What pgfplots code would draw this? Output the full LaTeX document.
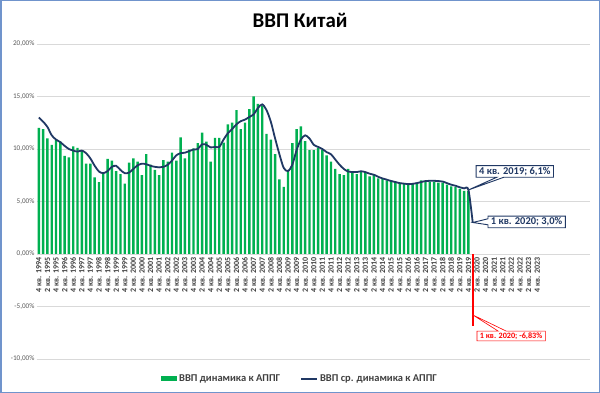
\documentclass[border=0pt]{standalone}
\usepackage{pgfplots}
\pgfplotsset{compat=1.18}
\usepackage{pgfplotstable}
\usepackage{fontspec}
\setmainfont{Carlito}
\usetikzlibrary{shapes.callouts}
\definecolor{barg}{HTML}{00B050}
\definecolor{navy}{HTML}{203864}
\definecolor{framec}{HTML}{7094CC}
\definecolor{gridc}{HTML}{D9D9D9}
\definecolor{tickc}{HTML}{595959}
\definecolor{labc}{HTML}{404040}

\pgfplotstableread{
i v
0 12.0
1 11.9
2 11.0
3 10.4
4 10.85
5 10.7
6 9.35
7 9.2
8 10.25
9 10.1
10 9.9
11 8.6
12 8.6
13 7.3
14 6.85
15 7.65
16 9.05
17 8.9
18 7.9
19 7.6
20 6.7
21 8.7
22 9.1
23 8.8
24 7.5
25 9.5
26 8.5
27 8.0
28 7.5
29 8.95
30 8.8
31 9.65
32 8.9
33 11.1
34 9.1
35 9.95
36 10.05
37 10.55
38 11.55
39 10.7
40 8.8
41 11.05
42 11.05
43 10.6
44 12.35
45 12.5
46 13.7
47 11.9
48 12.5
49 13.8
50 15.0
51 14.3
52 14.1
53 11.45
54 10.9
55 9.5
56 7.1
57 6.4
58 7.9
59 10.55
60 11.9
61 12.15
62 10.75
63 9.9
64 9.9
65 10.1
66 9.95
67 9.4
68 8.8
69 8.1
70 7.6
71 7.5
72 8.1
73 7.8
74 7.6
75 7.8
76 7.7
77 7.4
78 7.5
79 7.2
80 7.15
81 7.0
82 7.0
83 6.9
84 6.8
85 6.75
86 6.75
87 6.75
88 6.8
89 7.0
90 6.9
91 6.9
92 6.9
93 6.8
94 6.8
95 6.6
96 6.45
97 6.4
98 6.2
99 6.0
100 6.0
}\bars

\pgfplotstableread{
i v
0 13.0
1 12.6
2 12.1
3 11.3
4 10.9
5 10.65
6 10.3
7 10.0
8 9.85
9 9.75
10 9.85
11 9.6
12 9.1
13 8.4
14 7.85
15 7.7
16 7.9
17 8.3
18 8.4
19 8.0
20 7.7
21 7.75
22 8.1
23 8.45
24 8.6
25 8.55
26 8.4
27 8.3
28 8.25
29 8.3
30 8.5
31 8.9
32 9.4
33 9.6
34 9.65
35 9.8
36 9.95
37 10.0
38 10.45
39 10.4
40 10.15
41 10.2
42 10.2
43 10.9
44 11.5
45 11.9
46 12.35
47 12.65
48 12.8
49 13.05
50 13.3
51 13.9
52 14.25
53 13.7
54 12.6
55 11.0
56 9.5
57 8.2
58 7.9
59 8.5
60 9.9
61 10.9
62 11.3
63 11.0
64 10.4
65 10.2
66 10.0
67 9.7
68 9.5
69 9.0
70 8.5
71 8.1
72 7.85
73 7.8
74 7.8
75 7.88
76 7.8
77 7.65
78 7.55
79 7.35
80 7.2
81 7.08
82 6.95
83 6.85
84 6.75
85 6.7
86 6.65
87 6.68
88 6.75
89 6.85
90 6.95
91 6.97
92 6.97
93 6.95
94 6.9
95 6.75
96 6.6
97 6.5
98 6.35
99 6.25
100 6.1
101 3.0
}\avgline

\begin{document}
\begin{tikzpicture}
\useasboundingbox (0,0) rectangle (600bp,393bp);
\fill[white] (0,0) rectangle (600bp,393bp);
\begin{axis}[
  at={(36.7bp,34bp)}, anchor=south west,
  scale only axis, width=553.3bp, height=315bp,
  xmin=-0.5, xmax=128.3, ymin=-10, ymax=20,
  axis line style={draw=none},
  tick style={draw=none}, major tick length=0pt,
  ytick={-10,-5,0,5,10,15,20},
  yticklabels={{-10,00\%},{-5,00\%},{0,00\%},{5,00\%},{10,00\%},{15,00\%},{20,00\%}},
  yticklabel style={font=\fontsize{7.2}{8}\selectfont, text=tickc, inner xsep=2bp},
  ymajorgrids, grid style={gridc, line width=0.8bp},
  xtick={0,2,...,116},
  xticklabels={{4 кв. 1994},{2 кв. 1995},{4 кв. 1995},{2 кв. 1996},{4 кв. 1996},{2 кв. 1997},{4 кв. 1997},{2 кв. 1998},{4 кв. 1998},{2 кв. 1999},{4 кв. 1999},{2 кв. 2000},{4 кв. 2000},{2 кв. 2001},{4 кв. 2001},{2 кв. 2002},{4 кв. 2002},{2 кв. 2003},{4 кв. 2003},{2 кв. 2004},{4 кв. 2004},{2 кв. 2005},{4 кв. 2005},{2 кв. 2006},{4 кв. 2006},{2 кв. 2007},{4 кв. 2007},{2 кв. 2008},{4 кв. 2008},{2 кв. 2009},{4 кв. 2009},{2 кв. 2010},{4 кв. 2010},{2 кв. 2011},{4 кв. 2011},{2 кв. 2012},{4 кв. 2012},{2 кв. 2013},{4 кв. 2013},{2 кв. 2014},{4 кв. 2014},{2 кв. 2015},{4 кв. 2015},{2 кв. 2016},{4 кв. 2016},{2 кв. 2017},{4 кв. 2017},{2 кв. 2018},{4 кв. 2018},{2 кв. 2019},{4 кв. 2019},{2 кв. 2020},{4 кв. 2020},{2 кв. 2021},{4 кв. 2021},{2 кв. 2022},{4 кв. 2022},{2 кв. 2023},{4 кв. 2023}},
  xticklabel style={rotate=90, anchor=east, font=\bfseries\fontsize{8}{9}\selectfont, text=labc, inner sep=1.5bp},
  xticklabel shift=-103bp,
  clip=false,
  legend style={at={(0.476,-0.062)}, anchor=center, draw=none, fill=none,
    legend columns=2, font=\bfseries\fontsize{10.5}{12}\selectfont, text=labc,
    /tikz/every even column/.append style={column sep=18bp},
    /tikz/every odd column/.append style={column sep=0bp}},
]
\addplot[ybar, bar width=2.4bp, fill=barg, draw=none,
  legend image code/.code={\fill[barg] (0bp,-2.6bp) rectangle (16bp,2.6bp);}]
  table[x=i, y=v] {\bars};
\addlegendentry{ВВП динамика к АППГ}
\addplot[ybar, bar width=2.2bp, fill=red, draw=none, forget plot]
  coordinates {(101,-6.83)};
\addplot[navy, line width=1.8bp, smooth, mark=none,
  legend image code/.code={\draw[navy, line width=2bp] (0bp,0bp) -- (16bp,0bp);}]
  table[x=i, y=v] {\avgline};
\addlegendentry{ВВП ср. динамика к АППГ}
\coordinate (p1) at (axis cs:100,6.1);
\coordinate (b1) at (axis cs:110.8,7.86);
\coordinate (p2) at (axis cs:101,3.0);
\coordinate (b2) at (axis cs:113.55,3.05);
\coordinate (p3) at (axis cs:101,-5.8);
\coordinate (b3) at (axis cs:109.94,-7.81);
\end{axis}
\node[rectangle callout, draw=navy, line width=0.9bp, fill=white, text=navy,
  font=\bfseries\fontsize{10.5}{12}\selectfont, inner xsep=3bp, inner ysep=1.5bp,
  callout absolute pointer={(p1)}, callout pointer width=7bp] at (b1) {4 кв. 2019; 6,1\%};
\node[rectangle callout, draw=navy, line width=0.9bp, fill=white, text=navy,
  font=\bfseries\fontsize{10.5}{12}\selectfont, inner xsep=3bp, inner ysep=1.5bp,
  callout absolute pointer={(p2)}, callout pointer width=6bp] at (b2) {1 кв. 2020; 3,0\%};
\node[rectangle callout, draw=red, line width=0.6bp, fill=white, text=red,
  font=\bfseries\fontsize{8.2}{10}\selectfont, inner xsep=3bp, inner ysep=1.5bp,
  callout absolute pointer={(p3)}, callout pointer width=8bp] at (b3) {1 кв. 2020; -6,83\%};
\node[font=\bfseries\fontsize{21}{24}\selectfont, text=black] at (300bp,373bp) {ВВП Китай};
\draw[framec, line width=1.5bp] (0.75bp,0.75bp) rectangle (599.25bp,392.25bp);
\end{tikzpicture}
\end{document}
